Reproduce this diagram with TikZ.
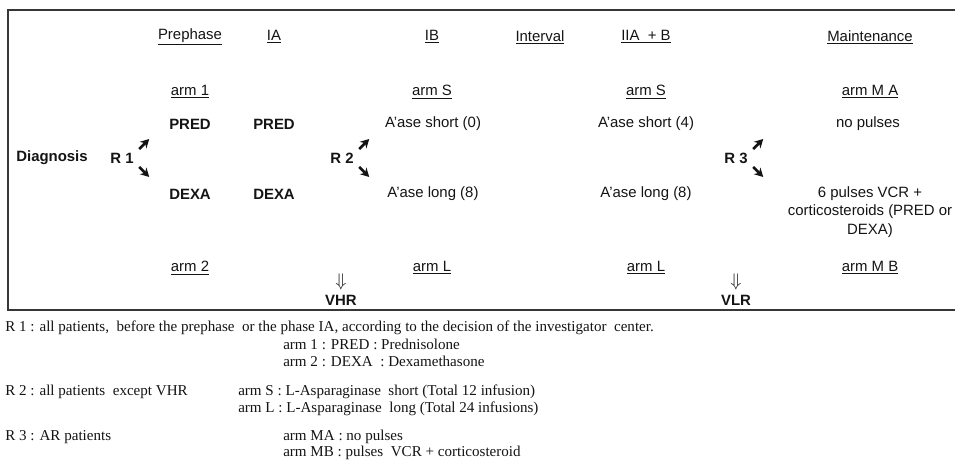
\documentclass[tikz,border=0pt]{standalone}
\usepackage{fontspec}
\setmainfont{Liberation Serif}
\setsansfont{Liberation Sans}
\usetikzlibrary{arrows.meta,positioning}
\definecolor{ink}{RGB}{20,20,20}
\definecolor{frame}{RGB}{55,55,55}
\tikzset{
  lab/.style={font=\sffamily\fontsize{11.2}{13.9}\selectfont,text=ink,align=center,inner sep=1pt},
  bold lab/.style={lab,font=\sffamily\bfseries\fontsize{11.2}{13.9}\selectfont},
  tilt/.style={-{Stealth[length=6.5pt,width=7pt]},line width=2pt,draw=ink},
  note/.style={font=\rmfamily\fontsize{11.3}{13}\selectfont,text=ink,anchor=west,
    inner sep=0pt,text height=8pt,text depth=2.5pt},
}
\newcommand{\hul}[1]{\underline{#1}}
\begin{document}
\begin{tikzpicture}[x=0.75pt,y=-0.75pt]
  \useasboundingbox (0,0) rectangle (955,460);
  \draw[frame,line width=1.1pt] (955,10) -- (8,10) -- (8,310) -- (955,310);
  % phases
  \node[lab] (hpre) at (190,37) {\hul{Prephase}};
  \node[lab] (hia) at (274,37) {\hul{IA}};
  \node[lab] (hib) at (432,37) {\hul{IB}};
  \node[lab] (hint) at (540,37) {\hul{Interval}};
  \node[lab] (hii) at (646,37) {\hul{IIA~ + B}};
  \node[lab] (hmt) at (870,37) {\hul{Maintenance}};
  % upper arms
  \node[lab] (a1) at (190,92) {\hul{arm 1}};
  \node[lab] (as1) at (432,92) {\hul{arm S}};
  \node[lab] (as2) at (646,92) {\hul{arm S}};
  \node[lab] (ama) at (870,92) {\hul{arm M A}};
  \node[bold lab] (pred1) at (190,124) {PRED};
  \node[bold lab] (pred2) at (274,124) {PRED};
  \node[lab] (sh0) at (433,124) {A'ase short (0)};
  \node[lab] (sh4) at (646,124) {A'ase short (4)};
  \node[lab] (nop) at (868,124) {no pulses};
  % randomisations
  \node[bold lab] (diag) at (52,158) {Diagnosis};
  \node[bold lab] (r1) at (122,158) {R 1};
  \node[bold lab] (r2) at (342,158) {R 2};
  \node[bold lab] (r3) at (736,158) {R 3};
  \foreach \r in {r1,r2,r3} {
    \draw[tilt] ([shift={(4,-9)}]\r.east) -- ++(10,-10);
    \draw[tilt] ([shift={(4,9)}]\r.east) -- ++(10,10);
  }
  % lower arms
  \node[bold lab] (dexa1) at (190,194) {DEXA};
  \node[bold lab] (dexa2) at (274,194) {DEXA};
  \node[lab] (lg1) at (433,194) {A'ase long (8)};
  \node[lab] (lg2) at (646,194) {A'ase long (8)};
  \node[lab,anchor=north] (pul) at (870,185) {6 pulses VCR +\\corticosteroids (PRED or\\DEXA)};
  \node[lab] (a2) at (190,268) {\hul{arm 2}};
  \node[lab] (al1) at (432,268) {\hul{arm L}};
  \node[lab] (al2) at (646,268) {\hul{arm L}};
  \node[lab] (amb) at (870,268) {\hul{arm M B}};
  \node[lab,scale=1.25] (dn1) at (341,282) {$\Downarrow$};
  \node[bold lab] (vhr) at (341,300) {VHR};
  \node[lab,scale=1.25] (dn2) at (736,282) {$\Downarrow$};
  \node[bold lab] (vlr) at (736,300) {VLR};
  % notes
  \node[note] (n1) at (5,328) {R 1 : all patients,~ before the prephase~ or the phase IA, according to the decision of the investigator~ center.};
  \node[note] (n1a) at (283,346) {arm 1 : PRED : Prednisolone};
  \node[note] (n1b) at (283,363) {arm 2 : DEXA~ : Dexamethasone};
  \node[note] (n2) at (5,392) {R 2 : all patients~ except VHR};
  \node[note] (n2a) at (238,392) {arm S : L-Asparaginase~ short (Total 12 infusion)};
  \node[note] (n2b) at (238,409) {arm L : L-Asparaginase~ long (Total 24 infusions)};
  \node[note] (n3) at (5,437) {R 3 : AR patients};
  \node[note] (n3a) at (283,437) {arm MA : no pulses};
  \node[note] (n3b) at (283,453) {arm MB : pulses~ VCR + corticosteroid};
\end{tikzpicture}
\end{document}
